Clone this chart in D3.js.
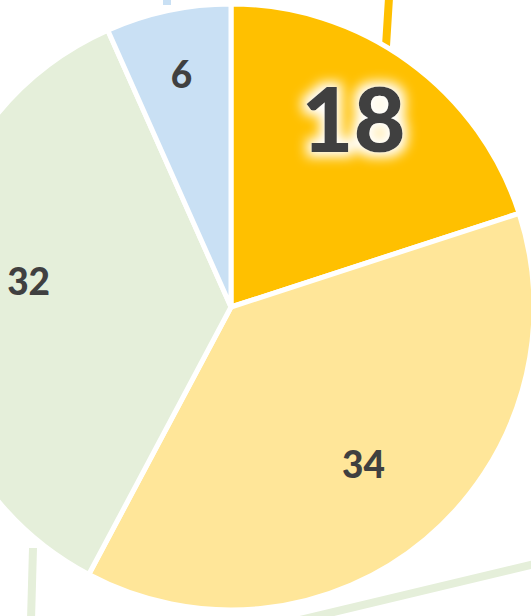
<!DOCTYPE html>
<html><head><meta charset="utf-8">
<script src="https://cdn.jsdelivr.net/npm/d3@7"></script>
<style>html,body{margin:0;padding:0;background:#fff;overflow:hidden}</style>
</head><body>
<svg id="c" width="531" height="616"></svg>
<script>
const categories = ["A", "B", "C", "D"];
const values = [18, 34, 32, 6];
const colors = ["#FFC000", "#FFE699", "#E5EFDA", "#C9E0F4"];

const svg = d3.select("#c");
const cx = 231, cy = 307, R = 303;

// glow filter
const defs = svg.append("defs");
const f = defs.append("filter").attr("id","glow").attr("x","-30%").attr("y","-30%").attr("width","160%").attr("height","160%");
f.append("feMorphology").attr("in","SourceAlpha").attr("operator","dilate").attr("radius",5).attr("result","d");
f.append("feGaussianBlur").attr("in","d").attr("stdDeviation",6).attr("result","b");
f.append("feFlood").attr("flood-color","#ffffff").attr("flood-opacity",1);
f.append("feComposite").attr("in2","b").attr("operator","in").attr("result","g");
const fm = f.append("feMerge");
fm.append("feMergeNode").attr("in","g");
fm.append("feMergeNode").attr("in","SourceGraphic");

// decorative background lines (partially visible neighbouring elements)
const deco = [
  {x1:389,y1:-2,x2:386,y2:46,c:"#FFC000"},
  {x1:167,y1:-2,x2:167,y2:5,c:"#C9E0F4"},
  {x1:33,y1:548,x2:31,y2:620,c:"#E5EFDA"},
  {x1:300,y1:620,x2:535,y2:564,c:"#E5EFDA"}
];
svg.selectAll("line.deco").data(deco).join("line").attr("class","deco")
  .attr("x1",d=>d.x1).attr("y1",d=>d.y1).attr("x2",d=>d.x2).attr("y2",d=>d.y2)
  .attr("stroke",d=>d.c).attr("stroke-width",8);

const pie = d3.pie().sort(null).value(d=>d)(values);
const arc = d3.arc().innerRadius(0).outerRadius(R);
const g = svg.append("g").attr("transform",`translate(${cx},${cy})`);
g.selectAll("path").data(pie).join("path")
  .attr("d",arc).attr("fill",(d,i)=>colors[i])
  .attr("stroke","#fff").attr("stroke-width",5).attr("stroke-linejoin","round");

const labelR = [224, 206, 204, 238];
const fontSz = [90, 37, 37, 37];
g.selectAll("text").data(pie).join("text")
  .attr("transform",(d,i)=>{
    const a=(d.startAngle+d.endAngle)/2 - (i===0?0.05:(i===2?-0.09:0));
    return `translate(${Math.sin(a)*labelR[i]},${-Math.cos(a)*labelR[i]})`;})
  .attr("text-anchor","middle").attr("dy","0.36em")
  .attr("font-family","Lato, 'Open Sans', sans-serif").attr("font-weight","900")
  .attr("font-size",(d,i)=>fontSz[i]+"px").attr("fill","#404040")
  .attr("filter",(d,i)=>i===0?"url(#glow)":null)
  .text(d=>d.data);
</script>
</body></html>
